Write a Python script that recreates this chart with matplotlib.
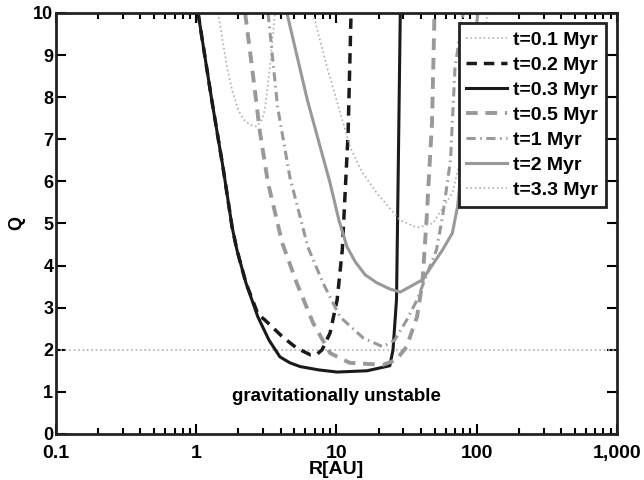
import matplotlib
matplotlib.use("Agg")
import matplotlib.pyplot as plt
from matplotlib.ticker import FixedLocator, FixedFormatter, LogLocator, NullFormatter

matplotlib.rcParams.update({'font.family': 'Liberation Sans'})
matplotlib.rcParams.update({'font.weight': 'bold'})
matplotlib.rcParams.update({'axes.labelweight': 'bold'})

# Q(R) curves, R in AU
r_01 = [1.43, 1.66, 1.80, 1.99, 2.19, 2.42, 2.7, 2.94, 3.08, 3.35, 3.64]
q_01 = [10, 8.7, 8.17, 7.7, 7.46, 7.34, 7.3, 7.46, 7.7, 8.7, 10]

r_02 = [1.03, 1.29, 1.55, 1.80, 1.95, 2.26, 2.75, 3.1, 4.14, 5.2, 6.5, 7.3, 7.9, 9.0, 10.1, 11.0, 12.1, 12.7]
q_02 = [10, 7.93, 6.34, 4.92, 4.37, 3.59, 2.85, 2.7, 2.3, 2.04, 1.88, 1.9, 2.0, 2.4, 3.18, 4.37, 7.15, 10]

r_03 = [1.03, 1.29, 1.55, 1.80, 1.95, 2.26, 2.75, 3.3, 3.95, 4.65, 5.5, 7.5, 10.1, 16.5, 24, 25.3, 26.8, 27.5, 28.5]
q_03 = [10, 7.93, 6.34, 4.92, 4.37, 3.59, 2.78, 2.23, 1.83, 1.69, 1.6, 1.52, 1.47, 1.5, 1.62, 2.0, 3.2, 6.0, 10]

r_05 = [2.23, 2.5, 2.85, 3.25, 4.1, 5.2, 6.8, 9.0, 12.4, 21.4, 26.7, 31.6, 37.5, 41, 44, 46.5, 48, 50]
q_05 = [10, 8.7, 7.15, 5.96, 4.54, 3.59, 2.64, 1.92, 1.69, 1.64, 1.76, 2.07, 2.78, 3.59, 5.15, 6.6, 7.4, 10]

r_1 = [3.25, 3.8, 4.65, 6.25, 8.0, 10.6, 15.5, 21.4, 26, 31.6, 37.5, 44, 51.6, 57, 65, 70, 80]
q_1 = [10, 7.77, 6.1, 4.44, 3.59, 2.78, 2.28, 2.07, 2.23, 2.7, 3.18, 3.78, 4.37, 5.15, 6.5, 8.7, 10]

r_2 = [4.43, 6.2, 9.0, 10.4, 11.9, 13.6, 16.0, 19.4, 24.1, 28.5, 41, 57, 67, 73, 84, 102]
q_2 = [10, 7.93, 5.96, 5.08, 4.44, 4.09, 3.78, 3.59, 3.44, 3.37, 3.66, 4.37, 4.77, 5.4, 7.46, 10]

r_33 = [6.8, 8.55, 12.5, 15.2, 19.4, 28.4, 37.5, 48.6, 67, 90, 120]
q_33 = [10, 8.72, 6.82, 6.22, 5.72, 5.08, 4.9, 5.0, 5.72, 7.5, 10]

q_crit = 2
x_ticks = [0.1, 1, 10, 100, 1000]
x_tick_labels = ["0.1", "1", "10", "100", "1,000"]

fig = plt.figure(figsize=(6.44, 4.8), dpi=100)
ax = fig.add_axes([0.087, 0.096, 0.871, 0.877])

gray = "#999999"
light = "#b0b0b0"
ax.semilogx([0.1, 1000], [q_crit, q_crit], color=light, linestyle=":", linewidth=1.2)
ax.plot(r_01, q_01, color=light, linestyle=":", linewidth=1.2, label="t=0.1 Myr")
ax.plot(r_02, q_02, color="#1a1a1a", linestyle=(0, (3, 2)), linewidth=2.5, label="t=0.2 Myr")
ax.plot(r_03, q_03, color="#1a1a1a", linestyle="-", linewidth=2.2, label="t=0.3 Myr")
ax.plot(r_05, q_05, color=gray, linestyle=(0, (3, 2)), linewidth=2.8, label="t=0.5 Myr")
ax.plot(r_1, q_1, color=gray, linestyle=(0, (3, 1.5, 0.5, 1.5)), linewidth=2.2, label="t=1 Myr")
ax.plot(r_2, q_2, color=gray, linestyle="-", linewidth=2.2, label="t=2 Myr")
ax.plot(r_33, q_33, color=light, linestyle=":", linewidth=1.2, label="t=3.3 Myr")

ax.text(10, 0.88, "gravitationally unstable", ha="center", va="center", fontsize=13.5, fontweight="bold")

ax.set_xlim(0.1, 1000)
ax.set_ylim(0, 10)
ax.xaxis.set_major_locator(FixedLocator(x_ticks))
ax.xaxis.set_major_formatter(FixedFormatter(x_tick_labels))
ax.xaxis.set_minor_locator(LogLocator(base=10, subs=range(2, 10)))
ax.xaxis.set_minor_formatter(NullFormatter())
ax.set_yticks(range(0, 11))
ax.tick_params(which="both", direction="in", top=True, right=True, labelsize=13, width=1.5)
ax.tick_params(which="major", length=7, pad=2)
ax.tick_params(axis="x", which="major", pad=8, labelsize=14)
ax.tick_params(which="minor", length=4)
for s in ax.spines.values():
    s.set_linewidth(2)
    s.set_color("#222222")
ax.set_xlabel("R[AU]", fontsize=14, labelpad=-1)
ax.set_ylabel("Q", fontsize=13, labelpad=6)

leg = ax.legend(loc="upper right", bbox_to_anchor=(0.98, 0.975), fontsize=14, handlelength=2.1,
                handletextpad=0.3, labelspacing=0.38, borderpad=0.4, borderaxespad=0,
                fancybox=False, framealpha=1)
leg.get_frame().set_edgecolor("#222222")
leg.get_frame().set_linewidth(2)
for t in leg.get_texts():
    t.set_fontweight("bold")

plt.savefig("out.png", dpi=100)
